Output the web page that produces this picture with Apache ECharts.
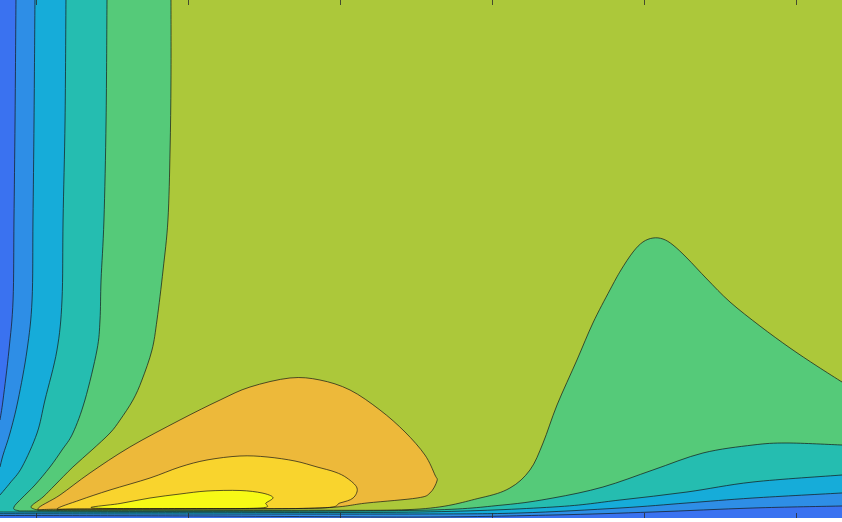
<!DOCTYPE html>
<html>
<head>
<meta charset="utf-8">
<style>
  html, body { margin: 0; padding: 0; background: #fff; }
  #chart { width: 842px; height: 522px; }
</style>
<script src="https://cdn.jsdelivr.net/npm/echarts@6/dist/echarts.min.js"></script>
</head>
<body>
<div id="chart"></div>
<script>
// axis extents and tick positions
const xRange = [-0.237, 5.303];
const yRange = [0, 100];
const xTicks = [0, 1, 2, 3, 4, 5];

// contour lines, [x, y]
const edgeLime = [
  [0.888, 100], [0.888, 84.56], [0.882, 71.04], [0.868, 57.53], [0.836, 47.88],
  [0.796, 38.22], [0.763, 32.43], [0.697, 26.64], [0.638, 22.78], [0.553, 18.92],
  [0.487, 16.41], [0.368, 13.13], [0.243, 9.85], [0.125, 6.37], [0.046, 4.05],
  [-0.030, 2.32], [-0.010, 1.70], [0.040, 1.51], [0.158, 1.49], [0.750, 1.49],
  [1.737, 1.49], [2.526, 1.74], [2.921, 3.86], [3.118, 5.79], [3.250, 9.27],
  [3.336, 14.48], [3.428, 21.81], [3.559, 30.50], [3.664, 37.64], [3.776, 44.02],
  [3.849, 47.88], [3.928, 51.35], [3.993, 53.28], [4.059, 54.05], [4.125, 53.86],
  [4.191, 52.70], [4.283, 50.19], [4.414, 46.14], [4.566, 41.70], [4.763, 37.07],
  [4.961, 32.82], [5.138, 29.34], [5.303, 26.25]
];
const edgeTeal = [
  [0.467, 100], [0.461, 76.83], [0.447, 57.53], [0.428, 45.95], [0.421, 38.22],
  [0.401, 32.43], [0.322, 22.78], [0.243, 16.41], [0.171, 13.13], [0.092, 9.85],
  [-0.007, 6.37], [-0.092, 3.86], [-0.145, 2.12], [-0.120, 1.45], [0.026, 1.35],
  [1.079, 1.29], [2.526, 1.49], [3.072, 2.51], [3.401, 3.86], [3.730, 5.98],
  [4.059, 9.27], [4.388, 12.55], [4.717, 14.09], [4.941, 14.48], [5.303, 14.09]
];
const edgeCyanLeft = [
  [0.197, 100], [0.191, 76.83], [0.178, 57.53], [0.171, 42.08], [0.138, 32.43],
  [0.059, 22.78], [0.007, 16.41], [-0.092, 9.85], [-0.171, 6.76], [-0.237, 4.44]
];
const edgeCyanLow = [
  [-0.237, 1.16], [1.079, 1.10], [2.526, 1.16], [3.401, 2.12], [3.842, 3.47],
  [4.283, 5.02], [4.717, 6.95], [5.303, 8.30]
];
const edgeBlueLeft = [
  [-0.007, 100], [-0.013, 76.83], [-0.020, 57.53], [-0.026, 42.08], [-0.059, 32.43],
  [-0.118, 22.78], [-0.171, 16.41], [-0.217, 12.16], [-0.237, 9.85]
];
const edgeBlueLow = [
  [-0.237, 0.83], [1.079, 0.77], [2.526, 0.77], [3.184, 0.97], [3.842, 1.93],
  [4.283, 2.90], [4.717, 3.86], [5.303, 4.83]
];
const edgeDeepLeft = [
  [-0.132, 100], [-0.138, 76.83], [-0.145, 57.53], [-0.151, 42.08], [-0.178, 32.43],
  [-0.217, 22.78], [-0.237, 18.92]
];
const edgeDeepLow = [
  [-0.237, 0.48], [1.079, 0.39], [2.526, 0.19], [3.401, 0.58], [4.059, 1.16],
  [4.717, 1.93], [5.303, 2.32]
];
const loopOrange = [
  [0.013, 1.78], [0.158, 4.44], [0.355, 8.69], [0.618, 13.71], [0.947, 18.92],
  [1.211, 22.78], [1.408, 25.29], [1.671, 27.03], [1.868, 26.64], [2.066, 24.71],
  [2.263, 20.85], [2.428, 16.60], [2.559, 12.16], [2.625, 8.30], [2.638, 7.14],
  [2.592, 4.83], [2.507, 3.86], [2.178, 2.90], [1.868, 1.93], [1.079, 1.74],
  [0.158, 1.70]
];
const loopGold = [
  [0.138, 1.74], [0.289, 3.47], [0.487, 5.41], [0.750, 7.72], [0.947, 9.85],
  [1.125, 11.20], [1.342, 11.97], [1.520, 11.78], [1.704, 11.00], [1.849, 9.85],
  [1.967, 8.88], [2.046, 7.72], [2.112, 5.79], [2.086, 3.86], [2.000, 2.90],
  [1.868, 1.93], [1.079, 1.78], [0.289, 1.74]
];
const loopYellow = [
  [0.375, 1.93], [0.553, 2.80], [0.750, 3.86], [0.947, 4.63], [1.125, 5.21],
  [1.342, 5.31], [1.487, 4.83], [1.559, 3.96], [1.513, 2.90], [1.474, 1.93],
  [0.947, 1.83]
];

const colors = {
  deep: '#3a72f0',
  blue: '#2e8ee6',
  cyan: '#16acd9',
  teal: '#25bdb0',
  green: '#55ca79',
  lime: '#acc83a',
  orange: '#edb93a',
  gold: '#f9d42d',
  yellow: '#f7f916'
};

const [x0, x1] = xRange;
const [y0, y1] = yRange;
const lowCorners = [[x1, y0], [x0, y0]];
const topLeft = [[x0, y1]];

// painted in order: each band covers the ones before it
const regions = [
  { color: colors.green, curve: edgeLime, tail: lowCorners.concat(topLeft) },
  { color: colors.teal, curve: edgeTeal, tail: lowCorners.concat(topLeft) },
  { color: colors.cyan, curve: edgeCyanLeft, tail: topLeft },
  { color: colors.cyan, curve: edgeCyanLow, tail: lowCorners },
  { color: colors.blue, curve: edgeBlueLeft, tail: topLeft },
  { color: colors.blue, curve: edgeBlueLow, tail: lowCorners },
  { color: colors.deep, curve: edgeDeepLeft, tail: topLeft },
  { color: colors.deep, curve: edgeDeepLow, tail: lowCorners },
  { color: colors.orange, curve: loopOrange, closed: true },
  { color: colors.gold, curve: loopGold, closed: true },
  { color: colors.yellow, curve: loopYellow, closed: true }
];

// smooth curve through pixel points (Catmull-Rom as cubic Bezier)
function curvePath(p, closed) {
  const n = p.length;
  const at = (i) => closed ? p[(i + n) % n] : p[Math.max(0, Math.min(n - 1, i))];
  const f = (v) => v.toFixed(2);
  let d = 'M' + f(p[0][0]) + ' ' + f(p[0][1]);
  const segs = closed ? n : n - 1;
  for (let i = 0; i < segs; i++) {
    const a = at(i - 1), b = at(i), c = at(i + 1), e = at(i + 2);
    const c1 = [b[0] + (c[0] - a[0]) / 6, b[1] + (c[1] - a[1]) / 6];
    const c2 = [c[0] - (e[0] - b[0]) / 6, c[1] - (e[1] - b[1]) / 6];
    d += 'C' + f(c1[0]) + ' ' + f(c1[1]) + ' ' + f(c2[0]) + ' ' + f(c2[1]) +
      ' ' + f(c[0]) + ' ' + f(c[1]);
  }
  return d;
}

function regionPath(r, api) {
  const pts = r.curve.map((v) => api.coord(v));
  let d = curvePath(pts, !!r.closed);
  (r.tail || []).forEach((v) => {
    const q = api.coord(v);
    d += 'L' + q[0].toFixed(2) + ' ' + q[1].toFixed(2);
  });
  return d + 'Z';
}

const tickAxis = (position) => ({
  type: 'value',
  position: position,
  min: x0,
  max: x1,
  z: 10,
  axisLine: { show: false },
  axisLabel: { show: false },
  splitLine: { show: false },
  axisTick: {
    show: true,
    inside: true,
    length: 5,
    customValues: xTicks,
    lineStyle: { color: '#2b2b2b', width: 0.8 }
  }
});

const chart = echarts.init(document.getElementById('chart'));
chart.setOption({
  animation: false,
  grid: {
    left: 0,
    right: 0,
    top: 0,
    bottom: 4,
    show: true,
    borderWidth: 0,
    backgroundColor: colors.lime
  },
  xAxis: [tickAxis('bottom'), tickAxis('top')],
  yAxis: {
    type: 'value',
    min: y0,
    max: y1,
    show: false
  },
  series: [
    {
      type: 'custom',
      name: 'bands',
      silent: true,
      clip: true,
      data: regions.map((r) => r.curve[0]),
      renderItem: function (params, api) {
        const r = regions[params.dataIndex];
        return {
          type: 'path',
          shape: { pathData: regionPath(r, api) },
          style: { fill: r.color, stroke: null }
        };
      }
    },
    {
      type: 'custom',
      name: 'contours',
      silent: true,
      clip: true,
      data: regions.map((r) => r.curve[0]),
      renderItem: function (params, api) {
        const r = regions[params.dataIndex];
        const pts = r.curve.map((v) => api.coord(v));
        return {
          type: 'path',
          shape: { pathData: curvePath(pts, !!r.closed) + (r.closed ? 'Z' : '') },
          style: { fill: null, stroke: '#151515', lineWidth: 0.7 }
        };
      }
    }
  ]
});
</script>
</body>
</html>
